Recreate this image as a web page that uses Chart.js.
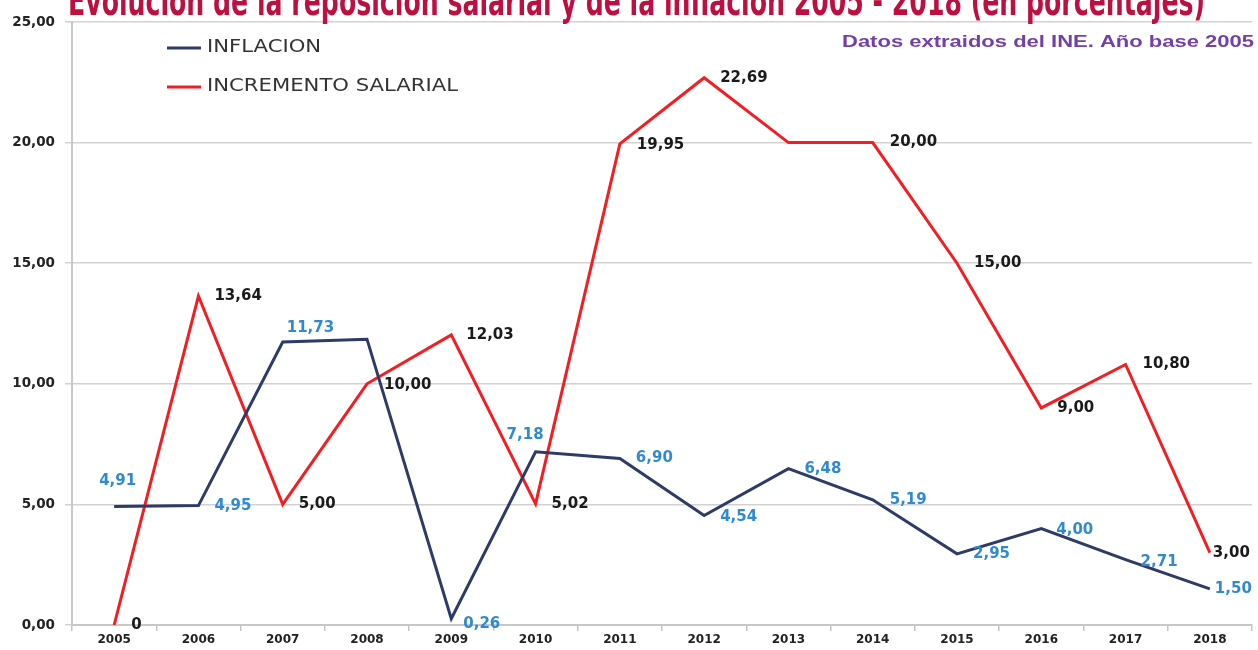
<!DOCTYPE html>
<html><head><meta charset="utf-8">
<script src="https://cdn.jsdelivr.net/npm/chart.js@4.4.0/dist/chart.umd.min.js"></script>
<style>html,body{margin:0;padding:0;background:#fff;overflow:hidden}#wrap{width:1258px;height:650px;position:relative}</style>
</head><body><div id="wrap"><canvas id="c" width="1258" height="650"></canvas></div>
<script>
const years = ['2005','2006','2007','2008','2009','2010','2011','2012','2013','2014','2015','2016','2017','2018'];
const inflacion = [4.91,4.95,11.73,11.85,0.26,7.18,6.90,4.54,6.48,5.19,2.95,4.00,2.71,1.50];
const salarial = [0,13.64,5.00,10.00,12.03,5.02,19.95,22.69,20.00,20.00,15.00,9.00,10.80,3.00];
const inflacionLabels = ['4,91','4,95','11,73',null,'0,26','7,18','6,90','4,54','6,48','5,19','2,95','4,00','2,71','1,50'];
const salarialLabels = ['0','13,64','5,00','10,00','12,03','5,02','19,95','22,69',null,'20,00','15,00','9,00','10,80','3,00'];
const yTicks = [0,5,10,15,20,25];
const seriesNames = ['INFLACION','INCREMENTO SALARIAL'];
const titleText = 'Evolución de la reposición salarial y de la inflación 2005 - 2018 (en porcentajes)';
const sourceText = 'Datos extraidos del INE. Año base 2005';

// label placement (offsets relative to the point, styling only)
const inflOffsets = [[-15,-25],[16,1],[4,-14],null,[12,5],[-29,-17],[16,0],[16,2],[16,0],[17,0],[16,0],[15,2],[15,2],[5,0]];
const salOffsets = [[17,0],[16,0],[16,0],[17,1],[15,0],[16,0],[17,1],[16,0],null,[17,0],[17,0],[16,0],[17,0],[3,0]];

function drawFit(ctx, text, x, y, font, targetW, align){
  ctx.save();
  ctx.font = font;
  const w = ctx.measureText(text).width;
  const s = targetW ? targetW / w : 1;
  ctx.translate(x, y);
  ctx.scale(s, 1);
  ctx.textAlign = align || 'left';
  ctx.fillText(text, 0, 0);
  ctx.restore();
}

const decor = {
  id: 'decor',
  afterDraw(chart){
    const ctx = chart.ctx;
    ctx.save();
    // title (clipped at the top)
    ctx.fillStyle = '#be1040';
    ctx.textBaseline = 'alphabetic';
    drawFit(ctx, titleText, 68, 15, 'bold 40px "Liberation Sans Narrow", "DejaVu Sans Condensed", sans-serif', 1137, 'left');
    // source
    ctx.fillStyle = '#7440a6';
    ctx.textBaseline = 'middle';
    drawFit(ctx, sourceText, 1254, 42, 'bold 16.5px "Liberation Sans", Arial, sans-serif', 412, 'right');
    // legend
    const ly = [48, 87];
    chart.data.datasets.forEach((ds, i) => {
      ctx.strokeStyle = ds.borderColor;
      ctx.lineWidth = 3;
      ctx.beginPath(); ctx.moveTo(167, ly[i]); ctx.lineTo(201, ly[i]); ctx.stroke();
      ctx.fillStyle = '#333';
      ctx.textBaseline = 'middle';
      ctx.font = '17px "DejaVu Sans", sans-serif';
      const w = ctx.measureText(seriesNames[1]).width;
      const s = 251 / w;
      ctx.save(); ctx.translate(207, ly[i]); ctx.scale(s,1); ctx.textAlign='left'; ctx.fillText(ds.label, 0, 0); ctx.restore();
    });
    // data labels
    const sets = [[inflacionLabels, inflOffsets, '#2f8ad0'], [salarialLabels, salOffsets, '#1a1a1a']];
    ctx.font = 'bold 15px "DejaVu Sans", sans-serif';
    ctx.textAlign = 'left';
    ctx.textBaseline = 'middle';
    sets.forEach((set, di) => {
      const meta = chart.getDatasetMeta(di);
      meta.data.forEach((pt, j) => {
        const txt = set[0][j]; const off = set[1][j];
        if (!txt || !off) return;
        ctx.fillStyle = set[2];
        ctx.fillText(txt, pt.x + off[0], pt.y + off[1]);
      });
    });
    ctx.restore();
  }
};

new Chart(document.getElementById('c'), {
  type: 'line',
  data: {
    labels: years,
    datasets: [
      { label: seriesNames[0], data: inflacion, borderColor: '#2e3a68', borderWidth: 3, pointRadius: 0, tension: 0, fill: false },
      { label: seriesNames[1], data: salarial, borderColor: '#f41e22', borderWidth: 3, pointRadius: 0, tension: 0, fill: false }
    ]
  },
  options: {
    responsive: false,
    animation: false,
    events: [],
    layout: { padding: { top: 22, right: 6, left: 0, bottom: 0 } },
    plugins: { legend: { display: false }, tooltip: { enabled: false }, title: { display: false } },
    scales: {
      x: {
        offset: true,
        grid: { drawOnChartArea: false, offset: true, tickLength: 6, color: '#c4c4c4', lineWidth: 1.5 },
        border: { color: '#c8c8c8', width: 2 },
        ticks: { color: '#222', font: { family: '"DejaVu Sans", sans-serif', size: 12, weight: 'bold' }, padding: 2, maxRotation: 0 },
        afterFit(scale){ scale.height = 25; }
      },
      y: {
        min: 0, max: 25,
        afterBuildTicks(scale){ scale.ticks = yTicks.map(v => ({ value: v })); },
        grid: { color: '#d2d2d2', lineWidth: 1.5, tickLength: 7 },
        border: { color: '#c8c8c8', width: 2 },
        ticks: { color: '#222', font: { family: '"DejaVu Sans", sans-serif', size: 13.5, weight: 'bold' }, padding: 10,
          callback: v => v.toFixed(2).replace('.', ',') },
        afterFit(scale){ scale.width = 72; }
      }
    }
  },
  plugins: [decor]
});
</script></body></html>
